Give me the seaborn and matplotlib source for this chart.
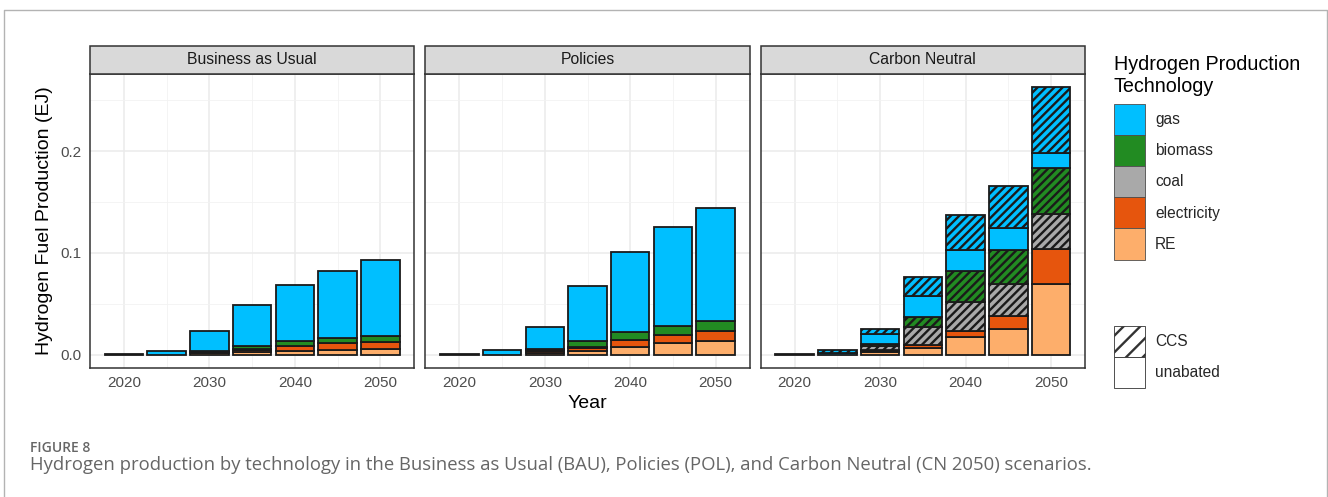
import numpy as np
import pandas as pd
import seaborn as sns
import matplotlib.pyplot as plt
from matplotlib.patches import Patch, Rectangle
from matplotlib.lines import Line2D

# Years and scenarios
years = [2020, 2025, 2030, 2035, 2040, 2045, 2050]
scenarios = ["Business as Usual", "Policies", "Carbon Neutral"]

# Business as Usual (EJ)
bau_re = [0.0, 0.0, 0.0015, 0.003, 0.004, 0.005, 0.0056]
bau_electricity = [0.0, 0.0, 0.001, 0.002, 0.0045, 0.006, 0.007]
bau_coal = [0.0, 0.0, 0.0005, 0.001, 0.0005, 0.0, 0.0]
bau_biomass = [0.0, 0.0, 0.001, 0.003, 0.004, 0.005, 0.0062]
bau_gas = [0.0005, 0.004, 0.019, 0.040, 0.055, 0.0665, 0.0742]

# Policies (EJ)
pol_re = [0.0, 0.0, 0.002, 0.004, 0.0076, 0.011, 0.0132]
pol_electricity = [0.0, 0.0, 0.0015, 0.003, 0.0066, 0.0083, 0.0099]
pol_coal = [0.0, 0.0, 0.001, 0.0005, 0.0, 0.0, 0.0]
pol_biomass = [0.0, 0.0, 0.0015, 0.006, 0.0076, 0.0091, 0.0102]
pol_gas = [0.0005, 0.0043, 0.021, 0.054, 0.0792, 0.0966, 0.1112]

# Carbon Neutral (EJ)
cn_re = [0.0, 0.0, 0.0025, 0.0066, 0.0172, 0.0254, 0.0696]
cn_electricity = [0.0, 0.0, 0.0013, 0.0026, 0.0063, 0.0129, 0.0343]
cn_coal = [0.0, 0.0, 0.0005, 0.0, 0.0, 0.0, 0.0]
cn_coal_ccs = [0.0, 0.0, 0.004, 0.0178, 0.028, 0.0314, 0.034]
cn_biomass_ccs = [0.0, 0.0, 0.0026, 0.0102, 0.031, 0.0327, 0.0459]
cn_gas = [0.0005, 0.002, 0.0099, 0.0205, 0.0208, 0.0221, 0.0145]
cn_gas_ccs = [0.0, 0.0023, 0.0046, 0.0182, 0.0337, 0.0413, 0.0644]

tech_colors = {
    "gas": "#00BFFF",
    "biomass": "#228B22",
    "coal": "#A9A9A9",
    "electricity": "#E6550D",
    "RE": "#FDAE6B",
}
# bottom to top
stack_order = [("RE", False), ("electricity", False), ("coal", False), ("coal", True),
               ("biomass", False), ("biomass", True), ("gas", False), ("gas", True)]

series = {
    "Business as Usual": {("RE", False): bau_re, ("electricity", False): bau_electricity,
                          ("coal", False): bau_coal, ("biomass", False): bau_biomass,
                          ("gas", False): bau_gas},
    "Policies": {("RE", False): pol_re, ("electricity", False): pol_electricity,
                 ("coal", False): pol_coal, ("biomass", False): pol_biomass,
                 ("gas", False): pol_gas},
    "Carbon Neutral": {("RE", False): cn_re, ("electricity", False): cn_electricity,
                       ("coal", False): cn_coal, ("coal", True): cn_coal_ccs,
                       ("biomass", True): cn_biomass_ccs, ("gas", False): cn_gas,
                       ("gas", True): cn_gas_ccs},
}

rows = []
for scen, layers in series.items():
    for (tech, ccs), vals in layers.items():
        for yr, v in zip(years, vals):
            rows.append({"scenario": scen, "year": yr, "tech": tech, "ccs": ccs, "value": v})
df = pd.DataFrame(rows)

sns.set_theme(style="whitegrid")
plt.rcParams["font.family"] = ["Liberation Sans", "DejaVu Sans"]
plt.rcParams["hatch.linewidth"] = 1.7
plt.rcParams["axes.edgecolor"] = "#333333"
plt.rcParams["axes.linewidth"] = 1.1
plt.rcParams["grid.color"] = "#ebebeb"


def stacked_bars(data, **kws):
    ax = plt.gca()
    bottom = pd.Series(0.0, index=years)
    for tech, ccs in stack_order:
        sub = data[(data["tech"] == tech) & (data["ccs"] == ccs)]
        if sub.empty:
            continue
        vals = sub.set_index("year")["value"].reindex(years).fillna(0.0)
        keep = vals > 0
        ax.bar(np.array(years)[keep.values], vals[keep].values, bottom=bottom[keep].values,
               width=4.5, color=tech_colors[tech], edgecolor="#1a1a1a", linewidth=1.3,
               hatch="////" if ccs else None, zorder=3)
        bottom = bottom + vals


g = sns.FacetGrid(df, col="scenario", col_order=scenarios, sharex=True, sharey=True,
                  height=4, aspect=1, despine=False)
g.map_dataframe(stacked_bars)

fig = g.figure
fig.set_size_inches(13.28, 4.97)
fig.subplots_adjust(left=90 / 1328, right=1085 / 1328, bottom=1 - 368 / 497,
                    top=1 - 74 / 497, wspace=11 / 324.8)

strip_h = 28 / 294
for i, (ax, scen) in enumerate(zip(g.axes.flat, scenarios)):
    ax.set_title("")
    ax.set_xlabel("")
    ax.set_ylabel("")
    ax.set_xlim(2016.03, 2053.97)
    ax.set_ylim(-0.0131, 0.2758)
    ax.set_xticks([2020, 2030, 2040, 2050])
    ax.set_xticks([2025, 2035, 2045], minor=True)
    ax.set_yticks([0.0, 0.1, 0.2])
    ax.set_yticks([0.05, 0.15, 0.25], minor=True)
    ax.set_yticklabels(["0.0", "0.1", "0.2"])
    ax.grid(which="major", color="#ebebeb", linewidth=1.1)
    ax.grid(which="minor", color="#f2f2f2", linewidth=0.6)
    ax.set_axisbelow(True)
    ax.tick_params(which="major", length=3.5, width=1, color="#333333",
                   labelcolor="#4d4d4d", labelsize=11, pad=2.5)
    ax.tick_params(which="minor", length=0)
    if i > 0:
        ax.tick_params(axis="y", left=False, labelleft=False)
    for s in ax.spines.values():
        s.set_edgecolor("#333333")
        s.set_linewidth(1.1)
    ax.add_patch(Rectangle((0, 1), 1, strip_h, transform=ax.transAxes, facecolor="#d9d9d9",
                           edgecolor="#333333", linewidth=1.1, clip_on=False, zorder=5))
    ax.text(0.5, 1 + strip_h / 2, scen, transform=ax.transAxes, ha="center", va="center",
            fontsize=11.3, color="#1a1a1a", zorder=6)

fig.text(45 / 1328, 1 - 221 / 497, "Hydrogen Fuel Production (EJ)", rotation=90,
         ha="center", va="center", fontsize=14, color="black")
fig.text(587.5 / 1328, 1 - 403 / 497, "Year", ha="center", va="center", fontsize=14,
         color="black")

# legends
fig.text(1114 / 1328, 1 - 65 / 497, "Hydrogen Production", ha="left", va="center",
         fontsize=14.2, color="black")
fig.text(1114 / 1328, 1 - 87 / 497, "Technology", ha="left", va="center",
         fontsize=14.2, color="black")

legend_techs = ["gas", "biomass", "coal", "electricity", "RE"]
h1 = [Patch(facecolor=tech_colors[t], edgecolor="#4d4d4d", linewidth=0.6) for t in legend_techs]
fig.legend(h1, legend_techs, loc="upper left",
           bbox_to_anchor=(1114 / 1328, 1 - 104 / 497), frameon=False, fontsize=11.2,
           handlelength=2.0, handleheight=2.7, labelspacing=0,
           handletextpad=0.65, borderpad=0, borderaxespad=0)
h2 = [Patch(facecolor="white", edgecolor="#333333", linewidth=0.6, hatch="//"),
      Patch(facecolor="white", edgecolor="#333333", linewidth=0.6)]
fig.legend(h2, ["CCS", "unabated"], loc="upper left",
           bbox_to_anchor=(1114 / 1328, 1 - 326 / 497), frameon=False, fontsize=11.2,
           handlelength=2.0, handleheight=2.7, labelspacing=0, handletextpad=0.65,
           borderpad=0, borderaxespad=0)

# outer frame of the figure panel
fig.add_artist(Line2D([4 / 1328, 4 / 1328, 1326.5 / 1328, 1326.5 / 1328],
                      [-0.05, 1 - 10 / 497, 1 - 10 / 497, -0.05],
                      transform=fig.transFigure, color="#b3b3b3", linewidth=1))

fig.text(30 / 1328, 1 - 448 / 497, "FIGURE 8", fontsize=10, fontweight="semibold",
         color="#666666", family=["Open Sans", "DejaVu Sans"], va="center")
fig.text(30 / 1328, 1 - 465 / 497,
         "Hydrogen production by technology in the Business as Usual (BAU), Policies (POL), "
         "and Carbon Neutral (CN 2050) scenarios.",
         fontsize=13.3, color="#666666", family=["Open Sans", "DejaVu Sans"], va="center")

fig.savefig("out.png", dpi=100)
